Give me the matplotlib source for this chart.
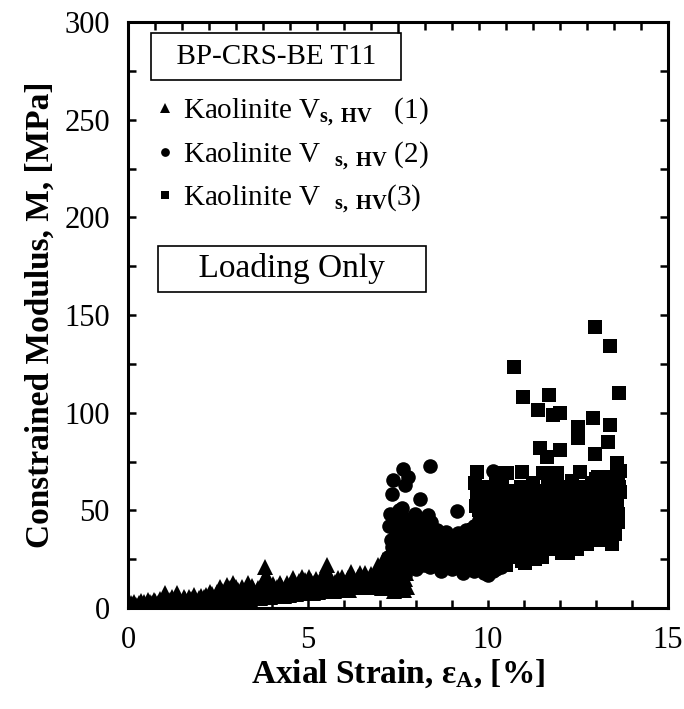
import numpy as np
import matplotlib
matplotlib.use("Agg")
import matplotlib.pyplot as plt

plt.rcParams['font.family'] = ['Liberation Serif', 'DejaVu Serif']
plt.rcParams['mathtext.fontset'] = 'custom'
plt.rcParams['mathtext.rm'] = 'Liberation Serif'
plt.rcParams['mathtext.it'] = 'Liberation Serif:italic'
plt.rcParams['mathtext.bf'] = 'Liberation Serif:bold'

# series 1: triangles (upper envelope / low band)
tri_x = [0.00, 0.05, 0.10, 0.15, 0.22, 0.30, 0.38, 0.45, 0.52, 0.60, 0.68, 0.75, 0.82, 0.90,
         0.98, 1.03, 1.10, 1.18, 1.25, 1.35, 1.42, 1.50, 1.58, 1.66, 1.75, 1.83, 1.90, 1.98,
         2.05, 2.12, 2.20, 2.28, 2.35, 2.42, 2.50, 2.56, 2.62, 2.68, 2.74, 2.80, 2.86, 2.91,
         2.97, 3.05, 3.12, 3.20, 3.28, 3.34, 3.40, 3.48, 3.55, 3.62, 3.70, 3.77, 3.80, 3.85,
         3.92, 4.00, 4.08, 4.15, 4.22, 4.30, 4.38, 4.45, 4.50, 4.57, 4.65, 4.72, 4.82, 4.90,
         4.97, 5.03, 5.10, 5.18, 5.25, 5.32, 5.40, 5.52, 5.55, 5.60, 5.68, 5.75, 5.83, 5.90,
         5.98, 6.05, 6.12, 6.19, 6.25, 6.32, 6.40, 6.48, 6.58, 6.65, 6.72, 6.80, 6.88, 6.94,
         7.00, 7.05, 7.08, 7.12, 7.18, 7.22, 7.25, 7.30, 7.35, 7.40, 7.42, 7.48, 7.52, 7.55,
         7.58, 7.62, 7.68, 7.70]
tri_y = [0.5, 1.2, 0.8, 2.0, 1.5, 2.5, 1.8, 3.0, 2.2, 3.2, 2.6, 3.5, 2.8, 3.4,
         2.5, 7.7, 3.6, 4.2, 3.0, 7.5, 4.5, 3.2, 4.8, 3.6, 4.4, 6.6, 3.8, 5.0,
         4.2, 5.5, 4.0, 8.2, 5.2, 4.6, 6.0, 10.7, 5.5, 7.0, 11.8, 6.2, 8.0, 12.8,
         6.5, 9.0, 5.8, 8.5, 6.8, 12.8, 7.5, 9.5, 6.2, 10.0, 7.8, 14.5, 21.0, 9.0,
         6.5, 10.5, 8.0, 11.0, 12.8, 7.5, 10.2, 8.5, 12.0, 15.4, 9.5, 11.5, 16.0, 10.0,
         12.5, 16.0, 9.5, 13.0, 11.0, 14.0, 10.5, 22.0, 16.0, 12.5, 10.0, 13.5, 15.4, 11.0,
         14.0, 12.0, 15.5, 18.4, 13.0, 10.5, 16.0, 12.5, 18.0, 14.0, 10.5, 15.5, 12.0, 22.0,
         17.0, 10.0, 24.6, 14.0, 20.0, 27.0, 12.0, 18.0, 30.0, 8.5, 22.0, 14.0, 33.0, 26.0,
         10.5, 19.0, 9.0, 15.0]
# series 1: triangles (mid band)
tri_x2 = [0.08, 0.18, 0.28, 0.35, 0.42, 0.55, 0.62, 0.72, 0.80, 0.88, 0.95, 1.06, 1.15, 1.22,
          1.30, 1.38, 1.46, 1.55, 1.62, 1.70, 1.78, 1.86, 1.95, 2.02, 2.10, 2.18, 2.25, 2.32,
          2.40, 2.46, 2.54, 2.60, 2.66, 2.72, 2.78, 2.84, 2.92, 3.00, 3.08, 3.16, 3.24, 3.32,
          3.38, 3.45, 3.52, 3.58, 3.66, 3.74, 3.82, 3.88, 3.95, 4.04, 4.12, 4.18, 4.26, 4.34,
          4.42, 4.48, 4.55, 4.62, 4.68, 4.76, 4.86, 4.93, 5.00, 5.07, 5.14, 5.22, 5.28, 5.36,
          5.44, 5.48, 5.58, 5.65, 5.72, 5.80, 5.87, 5.95, 6.02, 6.08, 6.15, 6.22, 6.30, 6.36,
          6.44, 6.52, 6.62, 6.70, 6.76, 6.84, 6.92, 6.98, 7.03, 7.10, 7.15, 7.20, 7.28, 7.32,
          7.38, 7.45, 7.50, 7.56, 7.60, 7.65, 7.72, 7.75]
tri_y2 = [2.5, 3.2, 1.0, 3.8, 1.5, 4.0, 1.8, 4.2, 1.5, 4.6, 1.2, 4.8, 1.8, 5.5,
          2.0, 5.0, 1.6, 5.8, 2.2, 5.4, 2.0, 4.6, 2.4, 6.2, 2.6, 6.5, 3.0, 7.0,
          2.8, 8.0, 3.4, 8.6, 3.6, 9.0, 3.2, 10.0, 4.0, 10.5, 4.2, 10.8, 4.5, 10.0,
          4.8, 11.5, 5.0, 8.8, 5.2, 11.0, 17.0, 12.0, 5.5, 12.5, 6.0, 9.5, 11.5, 6.2,
          13.0, 6.5, 11.0, 13.5, 7.0, 14.0, 7.5, 14.5, 8.0, 13.8, 7.8, 15.0, 8.0, 15.5,
          8.5, 18.0, 9.0, 15.0, 8.5, 12.0, 9.0, 16.0, 9.5, 14.0, 9.0, 16.5, 13.5, 11.5,
          18.0, 13.0, 15.5, 12.5, 17.5, 13.5, 18.5, 12.0, 20.0, 16.0, 23.0, 11.0, 25.0, 15.5,
          21.0, 28.0, 17.0, 12.0, 22.0, 13.0, 18.0, 11.0]

# series 2: circles
cir_x = [8.39, 7.63, 7.37, 7.78, 7.69, 7.32, 8.11, 7.60, 9.13, 8.34, 10.15,
         7.25, 7.30, 7.35, 7.40, 7.45, 7.50, 7.55, 7.60, 7.65, 7.70, 7.75, 7.80, 7.85, 7.90,
         7.95, 8.00, 8.05, 8.10, 8.15, 8.20, 8.25, 8.30, 8.35, 8.39, 8.45, 8.50, 8.55, 8.60,
         8.65, 8.70, 8.75, 8.80, 8.85, 8.90, 8.95, 9.00, 9.05, 9.10, 9.17, 9.20, 9.25, 9.30,
         9.35, 9.40, 9.45, 9.50, 9.55, 9.60, 9.65, 9.70, 9.78, 9.80, 9.85, 9.90, 9.95, 10.00,
         10.05, 10.10, 10.15, 10.20, 10.25, 10.30, 10.35, 10.40,
         7.20, 7.40, 7.70, 8.00, 8.40, 8.70, 9.00, 9.30, 9.60, 10.00]
cir_y = [72.7, 71.0, 65.5, 67.0, 63.0, 58.4, 55.8, 51.0, 49.8, 47.6, 70.0,
         42.0, 35.0, 28.0, 46.0, 38.0, 30.0, 24.0, 44.0, 36.0, 28.0, 40.0, 32.0, 22.0, 46.0,
         36.0, 28.0, 40.0, 33.0, 25.0, 41.5, 30.0, 36.0, 26.0, 38.4, 32.0, 28.0, 35.0, 24.0,
         30.0, 27.0, 33.0, 22.0, 34.8, 28.0, 24.0, 31.0, 26.0, 21.0, 38.4, 29.0, 24.0, 33.0,
         20.0, 40.0, 27.0, 23.0, 31.0, 19.0, 35.0, 25.0, 38.4, 21.0, 30.0, 18.0, 27.0, 33.0,
         22.0, 29.0, 19.0, 36.0, 25.0, 31.0, 21.0, 27.0,
         18.0, 20.0, 17.0, 20.0, 21.0, 19.0, 20.0, 18.0, 22.0, 17.0]
cir_x2 = [7.22, 7.28, 7.33, 7.38, 7.42, 7.47, 7.52, 7.57, 7.62, 7.67, 7.72, 7.78, 7.82, 7.88,
          7.92, 7.98, 8.02, 8.08, 8.12, 8.18, 8.22, 8.28, 8.32, 8.38, 8.42, 8.48, 8.52, 8.58,
          8.62, 8.68, 8.72, 8.78, 8.82, 8.88, 8.92, 8.98, 9.02, 9.08, 9.12, 9.18, 9.22, 9.28,
          9.32, 9.38, 9.42, 9.48, 9.52, 9.58, 9.62, 9.68, 9.72, 9.75, 9.82, 9.88, 9.92, 9.98,
          10.02, 10.08, 10.12, 10.18, 10.22, 10.28, 10.32, 10.38]
cir_y2 = [26, 48, 31, 22, 40, 33, 50, 38, 29, 46, 22, 35, 44, 27,
          38, 48, 24, 36, 45, 30, 22, 42, 30, 22, 44, 36, 22, 40,
          33, 23, 37, 29, 39, 21, 33, 27, 36, 30, 24, 33, 21, 28,
          37, 25, 32, 20, 36, 27, 42, 30, 22, 45, 33, 25, 38, 22,
          30, 25, 35, 28, 20, 33, 26, 35]

# series 3: squares
sq_x = [12.97, 13.39, 10.72, 13.64, 10.97, 11.69, 11.39, 11.81, 12.00, 12.92, 12.50, 13.39,
        12.50, 13.33, 11.44, 12.00, 11.63, 12.97, 13.57, 9.69, 10.24, 10.52, 10.94, 9.64,
        11.53, 11.92, 12.56, 13.06, 13.61, 13.67, 11.25, 12.08,
        9.65, 9.70, 9.75, 9.80, 9.85, 9.90, 9.95, 10.00, 10.05, 10.10, 10.15, 10.20, 10.25,
        10.30, 10.35, 10.40, 10.45, 10.50, 10.55, 10.60, 10.65, 10.70, 10.75, 10.80, 10.85,
        10.90, 10.95, 11.00, 11.05, 11.10, 11.15, 11.20, 11.25, 11.30, 11.35, 11.40, 11.45,
        11.50, 11.55, 11.60, 11.65, 11.70, 11.75, 11.80, 11.85, 11.90, 11.95, 12.00, 12.05,
        12.10, 12.15, 12.20, 12.25, 12.30, 12.35, 12.40, 12.45, 12.50, 12.55, 12.60, 12.65,
        12.70, 12.75, 12.80, 12.85, 12.90, 12.95, 13.00, 13.05, 13.10, 13.15, 13.20, 13.25,
        13.30, 13.35, 13.40, 13.45, 13.50, 13.55, 13.60, 13.65,
        10.20, 10.50, 11.03, 11.30, 12.22, 12.83, 13.25, 11.77, 13.57]
sq_y = [143.9, 134.0, 123.5, 110.0, 108.0, 109.0, 101.4, 98.8, 99.8, 97.3, 92.8, 93.7,
        87.0, 85.0, 81.9, 80.9, 77.5, 79.0, 74.0, 69.8, 69.0, 69.0, 69.8, 64.0,
        69.0, 69.0, 69.8, 67.0, 64.6, 59.6, 64.0, 62.0,
        64.0, 58.0, 50.0, 44.0, 36.0, 30.0, 54.0, 47.0, 40.0, 33.0, 60.0, 52.0, 45.0,
        38.0, 30.0, 64.0, 56.0, 49.0, 42.0, 35.0, 28.0, 60.0, 52.0, 45.0, 38.0,
        31.0, 24.0, 57.0, 50.0, 43.0, 36.0, 29.0, 64.0, 54.0, 47.0, 40.0, 33.0,
        26.0, 60.0, 52.0, 45.0, 38.0, 31.0, 65.0, 57.0, 49.0, 42.0, 35.0, 28.0,
        62.0, 54.0, 46.0, 39.0, 32.0, 58.0, 50.0, 43.0, 36.0, 62.0, 55.0, 47.0,
        40.0, 33.0, 59.0, 51.0, 44.0, 37.0, 66.0, 57.0, 49.0, 42.0, 35.0, 62.0,
        54.0, 47.0, 40.0, 33.0, 58.0, 50.0, 44.0, 62.0,
        26.0, 22.0, 23.0, 25.0, 28.0, 35.0, 35.0, 35.0, 44.0]
sq_x2 = [9.62, 9.68, 9.72, 9.78, 9.82, 9.88, 9.92, 9.98, 10.02, 10.08, 10.12, 10.18, 10.22,
         10.28, 10.32, 10.38, 10.42, 10.48, 10.52, 10.58, 10.62, 10.68, 10.72, 10.78, 10.82,
         10.88, 10.92, 10.98, 11.02, 11.08, 11.12, 11.18, 11.22, 11.28, 11.32, 11.38, 11.42,
         11.48, 11.52, 11.58, 11.62, 11.68, 11.72, 11.78, 11.82, 11.88, 11.92, 11.98, 12.02,
         12.08, 12.12, 12.18, 12.22, 12.28, 12.32, 12.38, 12.42, 12.48, 12.52, 12.58, 12.62,
         12.68, 12.72, 12.78, 12.82, 12.88, 12.92, 12.98, 13.02, 13.08, 13.12, 13.18, 13.22,
         13.28, 13.32, 13.38, 13.42, 13.48, 13.52, 13.58, 13.62, 13.66]
sq_y2 = [40, 52, 35, 60, 28, 48, 62, 38, 26, 56, 44, 30, 64,
         50, 24, 44, 34, 60, 28, 52, 45, 38, 32, 58, 26,
         48, 62, 40, 33, 56, 28, 48, 40, 33, 60, 50, 28,
         42, 55, 35, 30, 62, 50, 44, 38, 30, 55, 47, 62,
         40, 33, 58, 50, 44, 65, 38, 56, 30, 48, 42, 35,
         60, 52, 46, 40, 64, 55, 48, 42, 38, 60, 52, 46,
         40, 67, 56, 50, 44, 38, 55, 48, 70]

series_labels = [r'Kaolinite V$_{\mathbf{s,\ HV}}$   (1)',
                 r'Kaolinite V  $_{\mathbf{s,\ HV}}$ (2)',
                 r'Kaolinite V  $_{\mathbf{s,\ HV}}$(3)']

fig = plt.figure(figsize=(6.84, 7.09), dpi=100)
ax = fig.add_axes([128/684, 1-608/709, 540/684, 586/709])

h1, = ax.plot(tri_x + tri_x2, tri_y + tri_y2, '^', color='black', ms=12, mew=0,
              label=series_labels[0])
h2, = ax.plot(cir_x + cir_x2, cir_y + cir_y2, 'o', color='black', ms=10.5, mew=0,
              label=series_labels[1])
h3, = ax.plot(sq_x + sq_x2, sq_y + sq_y2, 's', color='black', ms=10, mew=0,
              label=series_labels[2])

ax.set_xlim(0, 15)
ax.set_ylim(0, 300)
ax.set_xticks([0, 5, 10, 15])
ax.set_xticks(np.arange(0, 15.01, 1), minor=True)
ax.set_yticks(np.arange(0, 301, 50))
ax.set_yticks(np.arange(0, 301, 25), minor=True)
ax.tick_params(which='both', direction='in', length=6, width=1.8, labelsize=22, right=True)
ax.tick_params(axis='x', which='major', pad=13)
ax.tick_params(axis='y', which='major', pad=13)
for s in ax.spines.values():
    s.set_linewidth(2.2)

# top axis ticks (secondary axis, 20 divisions)
axt = ax.twiny()
axt.set_xlim(0, 15)
axt.set_xticks([7.5])
axt.set_xticks(np.arange(0, 15.01, 0.75), minor=True)
axt.tick_params(which='both', direction='in', length=6, width=1.8, labeltop=False)
axt.tick_params(which='major', length=8)

ax.set_xlabel(r'Axial Strain, $\mathbf{ε_A}$, [%]', fontsize=24, fontweight='bold', labelpad=2)
ax.set_ylabel('Constrained Modulus, M, [MPa]', fontsize=24, fontweight='bold', labelpad=6)

ax.text(0.2741, 0.9411, '  BP-CRS-BE T11  ', transform=ax.transAxes, fontsize=21,
        ha='center', va='center', zorder=5,
        bbox=dict(boxstyle='square,pad=0.37', facecolor='white', edgecolor='black', linewidth=1.2))
ax.text(0.3037, 0.5785, '    Loading Only    ', transform=ax.transAxes, fontsize=24,
        ha='center', va='center', zorder=5,
        bbox=dict(boxstyle='square,pad=0.22', facecolor='white', edgecolor='black', linewidth=1.2))

ax.legend(handles=[h1, h2, h3], loc='upper left', bbox_to_anchor=(0.031, 0.8945),
          frameon=False, fontsize=21, markerscale=0.6, handlelength=0.6,
          handletextpad=0.3, labelspacing=0.38, borderaxespad=0)

fig.savefig('out.png', dpi=100)
